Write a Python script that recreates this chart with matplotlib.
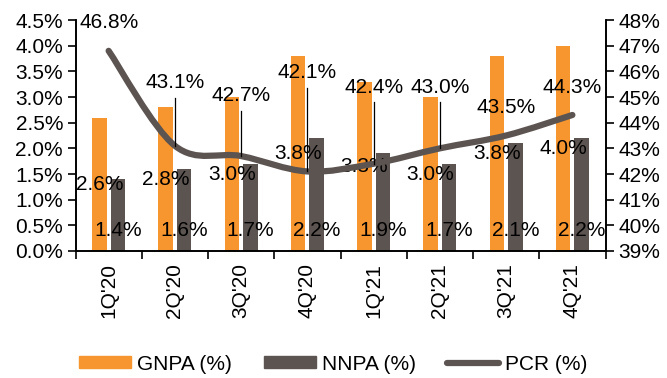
import matplotlib.pyplot as plt
import numpy as np
from matplotlib.path import Path
from matplotlib.patches import PathPatch
from matplotlib.lines import Line2D
from matplotlib.ticker import FuncFormatter, MultipleLocator

plt.rcParams['font.family'] = ['Liberation Sans', 'DejaVu Sans']

# quarterly asset quality figures
quarters = ["1Q'20", "2Q'20", "3Q'20", "4Q'20", "1Q'21", "2Q'21", "3Q'21", "4Q'21"]
gnpa = [2.6, 2.8, 3.0, 3.8, 3.3, 3.0, 3.8, 4.0]
nnpa = [1.4, 1.6, 1.7, 2.2, 1.9, 1.7, 2.1, 2.2]
pcr = [46.8, 43.1, 42.7, 42.1, 42.4, 43.0, 43.5, 44.3]

orange = '#F7962F'
grey = '#5C5451'
fs = 15

fig = plt.figure(figsize=(6.67, 3.78), dpi=100)
ax = fig.add_axes([0.1132, 0.336, 0.7946, 0.611])
ax2 = ax.twinx()

x = np.arange(len(quarters))
w = 0.22
ax.bar(x - 0.14, gnpa, w, color=orange, zorder=2)
ax.bar(x + 0.14, nnpa, w, color=grey, zorder=2)

ax.set_xlim(-0.5, len(quarters) - 0.5)
ax.set_ylim(0, 4.5)
ax.yaxis.set_major_locator(MultipleLocator(0.5))
ax.yaxis.set_major_formatter(FuncFormatter(lambda v, p: f'{v:.1f}%'))

ax2.set_ylim(39, 48)
ax2.yaxis.set_major_locator(MultipleLocator(1))
ax2.yaxis.set_major_formatter(FuncFormatter(lambda v, p: f'{v:.0f}%'))

# category labels sit between boundary ticks
ax.set_xticks(np.arange(-0.5, len(quarters), 1.0))
ax.set_xticklabels([])
ax.set_xticks(x, minor=True)
ax.set_xticklabels(quarters, minor=True, rotation=90, fontsize=fs)
ax.tick_params(axis='x', which='minor', length=0, pad=9)
ax.tick_params(axis='x', which='major', length=6, width=1.2, direction='out')
ax.tick_params(axis='y', length=6, width=1.2, labelsize=fs, pad=3)
ax2.tick_params(axis='y', length=6, width=1.2, labelsize=fs, pad=3)

for a in (ax, ax2):
    a.spines['top'].set_visible(False)
    for s in ('left', 'right', 'bottom'):
        a.spines[s].set_linewidth(1.2)
        a.spines[s].set_color('black')

# smoothed PCR line (Catmull-Rom style bezier through the points)
pts = np.column_stack([x, pcr]).astype(float)
verts = [pts[0]]
codes = [Path.MOVETO]
n = len(pts)
for i in range(n - 1):
    p0 = pts[max(i - 1, 0)]
    p1 = pts[i]
    p2 = pts[i + 1]
    p3 = pts[min(i + 2, n - 1)]
    c1 = p1 + (p2 - p0) / 6.0
    c2 = p2 - (p3 - p1) / 6.0
    verts += [c1, c2, p2]
    codes += [Path.CURVE4] * 3
line = PathPatch(Path(verts, codes), facecolor='none', edgecolor=grey,
                 linewidth=4.5, capstyle='round', joinstyle='round', zorder=3)
ax2.add_patch(line)

# bar labels
for i in range(n):
    ax.text(x[i] - 0.14, gnpa[i] / 2, f'{gnpa[i]:.1f}%', ha='center', va='center',
            fontsize=fs, zorder=4)
    ax.text(x[i] + 0.14, 0.4, f'{nnpa[i]:.1f}%', ha='center', va='center',
            fontsize=fs, zorder=4)

# PCR labels, some pulled up with leader lines
pcr_label_y = [47.92, 45.58, 45.04, 45.97, 45.39, 45.39, 44.61, 45.39]
leader = [False, True, True, True, True, True, False, False]
for i in range(n):
    ax2.text(x[i], pcr_label_y[i], f'{pcr[i]:.1f}%', ha='center', va='center',
             fontsize=fs, zorder=4)
    if leader[i]:
        ax2.plot([x[i], x[i]], [pcr_label_y[i] - 0.6, pcr[i]], color='black',
                 linewidth=0.9, zorder=4)

handles = [plt.Rectangle((0, 0), 1, 1, color=orange),
           plt.Rectangle((0, 0), 1, 1, color=grey),
           Line2D([0], [0], color=grey, linewidth=4.5, solid_capstyle='round')]
fig.legend(handles, ['GNPA (%)', 'NNPA (%)', 'PCR (%)'], loc='center',
           bbox_to_anchor=(0.5, 0.037), ncol=3, frameon=False, fontsize=fs,
           handlelength=2.5, handleheight=0.55, handletextpad=0.3,
           columnspacing=1.5)

fig.savefig('out.png', dpi=100)
